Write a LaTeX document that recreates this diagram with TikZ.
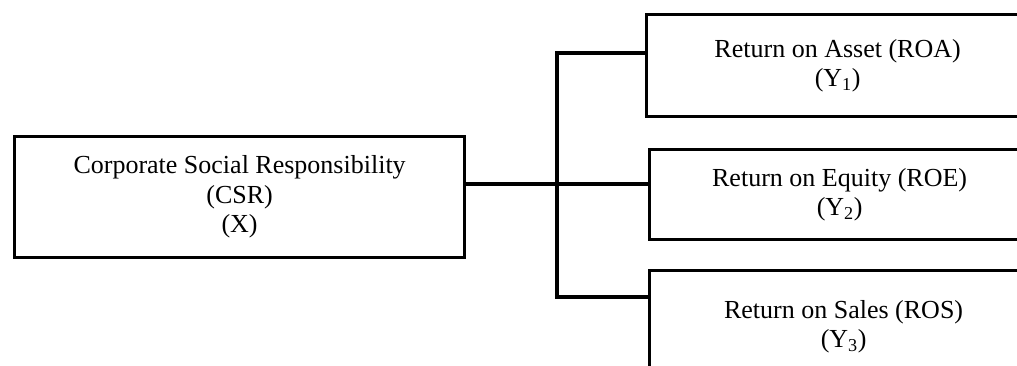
\documentclass[tikz,border=0pt]{standalone}
\usepackage{fontspec}
\setmainfont{Liberation Serif}
\begin{document}
\begin{tikzpicture}[x=1pt,y=-1pt,
  varbox/.style={draw=black, line width=3.2pt, fill=white, inner sep=0pt,
    align=center, anchor=north west,
    font=\fontsize{26}{29.5}\selectfont},
  link/.style={draw=black, line width=3.2pt, line join=miter}]
\useasboundingbox (0,0) rectangle (1017,365);
\clip (0,0) rectangle (1017,365);

% independent variable
\node[varbox, minimum width=450pt, minimum height=121pt] (csr) at (13,135)
  {Corporate Social Responsibility\\(CSR)\\(X)};

% dependent variables, running past the right edge
\node[varbox, minimum width=382pt, minimum height=102pt] (roa) at (645,13)
  {Return on Asset (ROA)\\(Y\textsubscript{1})};
\node[varbox, minimum width=380pt, minimum height=90pt] (roe) at (648,148)
  {Return on Equity (ROE)\\(Y\textsubscript{2})};
\node[varbox, minimum width=388pt, minimum height=112pt] (ros) at (648,269)
  {Return on Sales (ROS)\\(Y\textsubscript{3})};

% junction points on the vertical bus
\coordinate (jt) at (557,53);
\coordinate (jm) at (557,184);
\coordinate (jb) at (557,297);

\draw[link] (roa.west |- jt) -- (jt) -- (jb) -- (ros.west |- jb);
\draw[link] (csr.east |- jm) -- (roe.west |- jm);
\end{tikzpicture}
\end{document}
